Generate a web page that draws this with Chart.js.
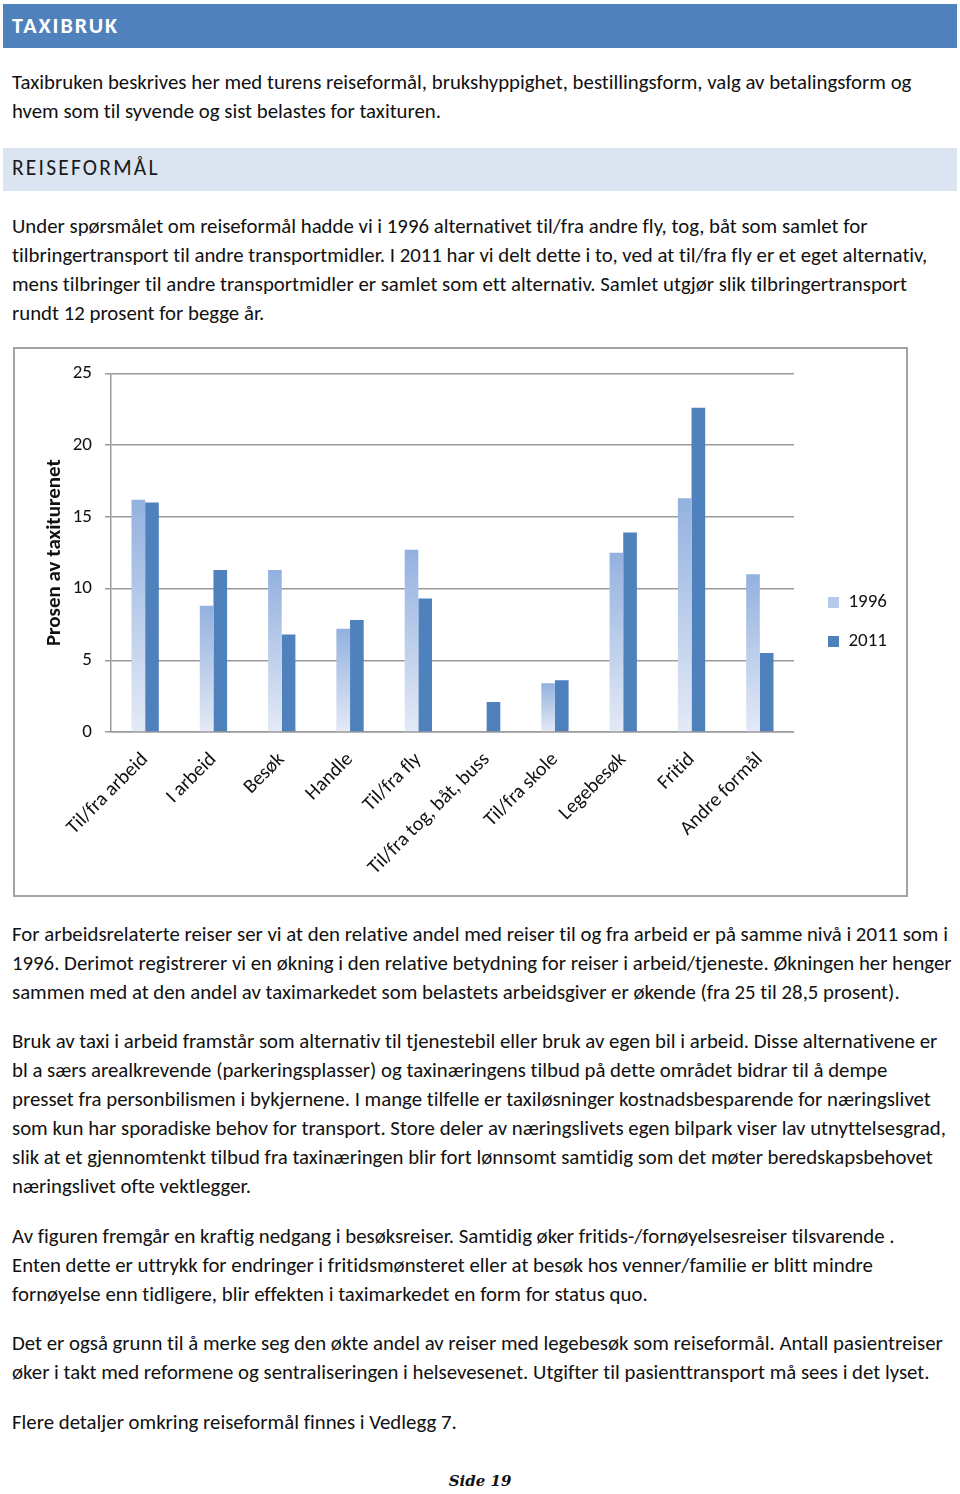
<!DOCTYPE html>
<html>
<head>
<meta charset="utf-8">
<title>Taxibruk - reiseformål</title>
<script src="https://cdn.jsdelivr.net/npm/chart.js@4.4.1/dist/chart.umd.min.js"></script>
<style>
  body { margin: 0; background: #fff; font-family: Carlito, Lato, sans-serif; color: #111;
         font-variant-ligatures: none; }
  .page { position: relative; width: 960px; height: 1494px; overflow: hidden; }
  .h1 { position: absolute; left: 3px; top: 4px; width: 954px; height: 44px; background: #4f81bd;
        color: #fff; font-weight: bold; font-size: 22px; letter-spacing: 2px; line-height: 43px;
        padding-left: 9px; box-sizing: border-box; }
  .h2 { position: absolute; left: 3px; top: 148px; width: 954px; height: 43px; background: #dbe5f1;
        color: #1a1a1a; font-size: 21.5px; letter-spacing: 2.2px; line-height: 41px;
        padding-left: 9px; box-sizing: border-box; }
  .p { position: absolute; left: 12px; font-size: 20.8px; line-height: 29px; white-space: nowrap; }
  .frame { position: absolute; left: 13px; top: 347px; width: 895px; height: 550px;
           border: 2px solid #a3a3a3; box-sizing: border-box; }
  .frame .box { position: absolute; left: 0; top: 0; right: 0; bottom: 0; }
  .foot { position: absolute; left: 0; width: 960px; top: 1472px; text-align: center;
          font-family: "DejaVu Serif", serif; font-style: italic; font-weight: bold; font-size: 15px; }
</style>
</head>
<body>
<div class="page">
  <div class="h1">TAXIBRUK</div>
  <div class="p" style="top:68px">Taxibruken beskrives her med turens reiseformål, brukshyppighet, bestillingsform, valg av betalingsform og<br>hvem som til syvende og sist belastes for taxituren.</div>
  <div class="h2">REISEFORMÅL</div>
  <div class="p" style="top:212px">Under spørsmålet om reiseformål hadde vi i 1996 alternativet til/fra andre fly, tog, båt som samlet for<br>tilbringertransport til andre transportmidler. I 2011 har vi delt dette i to, ved at til/fra fly er et eget alternativ,<br>mens tilbringer til andre transportmidler er samlet som ett alternativ. Samlet utgjør slik tilbringertransport<br>rundt 12 prosent for begge år.</div>

  <div class="frame"><div class="box"><canvas id="reiseformaal"></canvas></div></div>

  <div class="p" style="top:920px">For arbeidsrelaterte reiser ser vi at den relative andel med reiser til og fra arbeid er på samme nivå i 2011 som i<br>1996. Derimot registrerer vi en økning i den relative betydning for reiser i arbeid/tjeneste. Økningen her henger<br>sammen med at den andel av taximarkedet som belastets arbeidsgiver er økende (fra 25 til 28,5 prosent).</div>
  <div class="p" style="top:1027px">Bruk av taxi i arbeid framstår som alternativ til tjenestebil eller bruk av egen bil i arbeid. Disse alternativene er<br>bl a særs arealkrevende (parkeringsplasser) og taxinæringens tilbud på dette området bidrar til å dempe<br>presset fra personbilismen i bykjernene. I mange tilfelle er taxiløsninger kostnadsbesparende for næringslivet<br>som kun har sporadiske behov for transport. Store deler av næringslivets egen bilpark viser lav utnyttelsesgrad,<br>slik at et gjennomtenkt tilbud fra taxinæringen blir fort lønnsomt samtidig som det møter beredskapsbehovet<br>næringslivet ofte vektlegger.</div>
  <div class="p" style="top:1222px">Av figuren fremgår en kraftig nedgang i besøksreiser. Samtidig øker fritids-/fornøyelsesreiser tilsvarende .<br>Enten dette er uttrykk for endringer i fritidsmønsteret eller at besøk hos venner/familie er blitt mindre<br>fornøyelse enn tidligere, blir effekten i taximarkedet en form for status quo.</div>
  <div class="p" style="top:1329px">Det er også grunn til å merke seg den økte andel av reiser med legebesøk som reiseformål. Antall pasientreiser<br>øker i takt med reformene og sentraliseringen i helsevesenet. Utgifter til pasienttransport må sees i det lyset.</div>
  <div class="p" style="top:1408px">Flere detaljer omkring reiseformål finnes i Vedlegg 7.</div>

  <div class="foot">Side 19</div>
</div>

<script>
// Reiseformål, prosent av taxiturene
const reiseformaal = ['Til/fra arbeid', 'I arbeid', 'Besøk', 'Handle', 'Til/fra fly',
  'Til/fra tog, båt, buss', 'Til/fra skole', 'Legebesøk', 'Fritid', 'Andre formål'];
const aar = ['1996', '2011'];
const andel1996 = [16.2, 8.8, 11.3, 7.2, 12.7, null, 3.4, 12.5, 16.3, 11.0];
const andel2011 = [16.0, 11.3, 6.8, 7.8, 9.3, 2.1, 3.6, 13.9, 22.6, 5.5];
const yTicks = [0, 5, 10, 15, 20, 25];

Chart.defaults.font.family = 'Carlito, Lato, sans-serif';
Chart.defaults.color = '#1a1a1a';

// lys gradient for 1996, hver stolpe får sin egen
function farge1996(ctx) {
  const chart = ctx.chart;
  if (!chart.chartArea || ctx.raw == null) return '#b9cbea';
  const y = chart.scales.y;
  const topp = y.getPixelForValue(ctx.raw);
  const bunn = y.getPixelForValue(0);
  const g = chart.ctx.createLinearGradient(0, topp, 0, bunn);
  g.addColorStop(0, '#93b1df');
  g.addColorStop(1, '#e4eaf6');
  return g;
}

const grid = '#9a9a9a';

const config = {
  type: 'bar',
  data: {
    labels: reiseformaal,
    datasets: [
      { label: aar[0], data: andel1996, backgroundColor: farge1996 },
      { label: aar[1], data: andel2011, backgroundColor: '#4f81bd' }
    ]
  },
  options: {
    responsive: true,
    maintainAspectRatio: false,
    animation: false,
    categoryPercentage: 0.4,
    barPercentage: 1.0,
    layout: { padding: { left: 20, top: 22, right: 9, bottom: 22 } },
    plugins: {
      tooltip: { enabled: false },
      legend: {
        position: 'right',
        labels: { boxWidth: 11, boxHeight: 11, padding: 20, font: { size: 19 }, color: '#111' }
      }
    },
    scales: {
      x: {
        grid: { display: false },
        border: { color: grid, width: 1.5 },
        ticks: { minRotation: 45, maxRotation: 45, autoSkip: false, padding: 8,
                 font: { size: 20 }, color: '#111' },
        afterFit: (s) => { s.height = 141; }
      },
      y: {
        min: 0, max: 25,
        afterBuildTicks: (s) => { s.ticks = yTicks.map(v => ({ value: v })); },
        grid: { color: grid, lineWidth: 1.5, tickLength: 6 },
        border: { color: grid, width: 1.5 },
        ticks: { padding: 13, font: { size: 19 }, color: '#111' },
        title: { display: true, text: 'Prosen av taxiturenet', font: { size: 21, weight: 'bold' },
                 color: '#111', padding: { top: 7, bottom: 7 } },
        afterFit: (s) => { s.width = 76; }
      },
      // tom akse som gir luft mellom plottet og forklaringen
      luft: {
        position: 'right',
        grid: { display: false },
        border: { display: false },
        ticks: { display: false },
        afterFit: (s) => { s.width = 14; }
      }
    }
  }
};

const myChart = new Chart(document.getElementById('reiseformaal'), config);
</script>
</body>
</html>
